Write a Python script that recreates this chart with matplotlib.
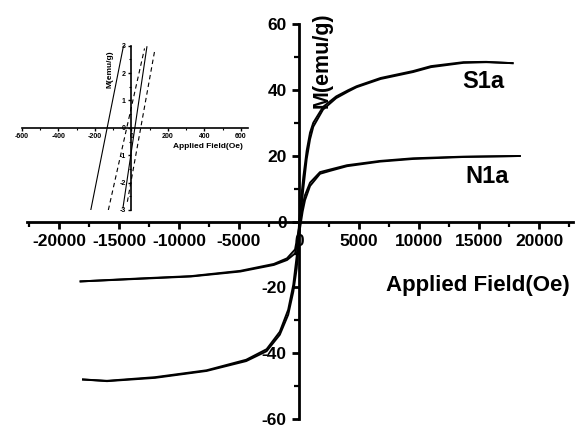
import matplotlib
matplotlib.use("Agg")
import matplotlib.pyplot as plt
from matplotlib.ticker import MultipleLocator, FixedLocator

plt.rcParams['font.family'] = ['Liberation Sans', 'DejaVu Sans']
plt.rcParams['font.weight'] = 'bold'

# ---------------- data ----------------
# S1a hysteresis loop (two branches)
s1a_field = [-18000, -16000, -12000, -7700, -4400, -2700, -1600, -900, -475, -190, 0,
             190, 360, 640, 920, 1190, 2000, 3100, 4100, 4800, 6800, 9500, 11000, 13700,
             15600, 17800]
s1a_asc = [-48.0, -48.5, -47.5, -45.4, -42.4, -39.4, -34.4, -28.3, -21.3, -14.2, -5.0,
           4.0, 10.0, 19.0, 25.0, 28.8, 34.0, 37.5, 39.5, 40.8, 43.3, 45.4, 46.9, 48.2,
           48.4, 48.1]
s1a_desc = [-48.0, -48.4, -47.3, -45.2, -42.0, -38.8, -33.5, -26.8, -19.2, -10.5, -1.0,
            7.5, 13.5, 21.5, 27.0, 30.0, 34.8, 38.0, 39.9, 41.1, 43.6, 45.7, 47.2, 48.4,
            48.5, 48.1]

# N1a hysteresis loop (two branches)
n1a_field = [-18200, -13250, -9000, -4900, -2100, -1000, -330, 0, 300, 500, 920,
             1750, 2600, 4000, 6750, 9500, 13700, 18400]
n1a_asc = [-18.2, -17.4, -16.7, -15.2, -13.2, -11.7, -9.7, -4.0, 3.0, 6.5, 10.8,
           14.5, 15.4, 16.8, 18.2, 19.0, 19.6, 19.9]
n1a_desc = [-18.2, -17.3, -16.6, -15.0, -12.9, -11.2, -8.5, -2.0, 5.0, 8.0, 11.8,
            15.0, 15.8, 17.1, 18.4, 19.2, 19.7, 19.9]

# inset: low-field segments
inset_a_field, inset_a_m = [-222, -43], [-3.0, 3.0]     # solid
inset_c_field, inset_c_m = [-46, 85], [-2.92, 2.96]     # solid
inset_b_field, inset_b_m = [-126, 72], [-3.0, 2.9]      # dashed
inset_d_field, inset_d_m = [-22, 127], [-2.7, 2.8]      # dashed

main_xticks = [-20000, -15000, -10000, -5000, 0, 5000, 10000, 15000, 20000]
main_yticks = [-60, -40, -20, 0, 20, 40, 60]
inset_xticks = [-600, -400, -200, 0, 200, 400, 600]
inset_yticks = [-3, -2, -1, 0, 1, 2, 3]

W, H = 575, 428
fig = plt.figure(figsize=(W / 100, H / 100), dpi=100)

# ---------------- main axes ----------------
ax = fig.add_axes([27 / W, (H - 419) / H, 546 / W, 395 / H])
ax.set_xlim(-22667, 22833)
ax.set_ylim(-60, 60)
for s in ['top', 'right']:
    ax.spines[s].set_visible(False)
ax.spines['left'].set_position(('data', 0))
ax.spines['bottom'].set_position(('data', 0))
for s in ['left', 'bottom']:
    ax.spines[s].set_linewidth(2.0)
ax.patch.set_visible(False)

lw = 1.4
ax.plot(s1a_field, s1a_asc, color='black', lw=lw)
ax.plot(s1a_field, s1a_desc, color='black', lw=lw)
ax.plot(n1a_field, n1a_asc, color='black', lw=lw)
ax.plot(n1a_field, n1a_desc, color='black', lw=lw)

ax.xaxis.set_major_locator(FixedLocator(main_xticks))
ax.xaxis.set_minor_locator(MultipleLocator(2500))
ax.yaxis.set_major_locator(FixedLocator(main_yticks))
ax.yaxis.set_minor_locator(MultipleLocator(10))
ax.set_xticklabels([str(v) for v in main_xticks])
ax.set_yticklabels([str(v) for v in main_yticks])
ax.tick_params(axis='both', which='major', direction='out', length=5, width=2.0,
               labelsize=12.5, pad=4)
ax.tick_params(axis='both', which='minor', direction='out', length=3.5, width=1.6)
for lab in ax.get_xticklabels() + ax.get_yticklabels():
    lab.set_fontweight('bold')

fig.text(322 / W, 1 - 60 / H, 'M(emu/g)', rotation=90, ha='center', va='center',
         fontsize=15.5, fontweight='bold')
fig.text(386 / W, 1 - 285 / H, 'Applied Field(Oe)', ha='left', va='center',
         fontsize=16, fontweight='bold')
fig.text(483 / W, 1 - 81 / H, 'S1a', ha='center', va='center', fontsize=17,
         fontweight='bold')
fig.text(487 / W, 1 - 176 / H, 'N1a', ha='center', va='center', fontsize=17,
         fontweight='bold')

# ---------------- inset ----------------
ax2 = fig.add_axes([21.7 / W, (H - 210) / H, (248 - 21.7) / W, (210 - 45.7) / H])
ax2.set_xlim(-600, 638)
ax2.set_ylim(-3, 3)
ax2.patch.set_visible(False)
for s in ['top', 'right']:
    ax2.spines[s].set_visible(False)
ax2.spines['left'].set_position(('data', 0))
ax2.spines['bottom'].set_position(('data', 0))
for s in ['left', 'bottom']:
    ax2.spines[s].set_linewidth(1.2)

ax2.plot(inset_a_field, inset_a_m, color='black', lw=0.8)
ax2.plot(inset_c_field, inset_c_m, color='black', lw=0.8)
ax2.plot(inset_b_field, inset_b_m, color='black', lw=0.8, ls=(0, (4, 3)))
ax2.plot(inset_d_field, inset_d_m, color='black', lw=0.8, ls=(0, (4, 3)))

ax2.xaxis.set_major_locator(FixedLocator(inset_xticks))
ax2.xaxis.set_minor_locator(MultipleLocator(100))
ax2.yaxis.set_major_locator(FixedLocator(inset_yticks))
ax2.yaxis.set_minor_locator(MultipleLocator(0.5))
ax2.set_xticklabels([str(v) for v in inset_xticks])
ax2.set_yticklabels([str(v) for v in inset_yticks])
ax2.tick_params(axis='both', which='major', direction='out', length=2.5, width=1.0,
                labelsize=5, pad=1.5)
ax2.tick_params(axis='both', which='minor', direction='out', length=1.5, width=0.8)
for lab in ax2.get_xticklabels() + ax2.get_yticklabels():
    lab.set_fontweight('bold')

fig.text(173 / W, 1 - 146 / H, 'Applied Field(Oe)', ha='left', va='center',
         fontsize=6, fontweight='bold')
fig.text(110 / W, 1 - 69 / H, 'M(emu/g)', rotation=90, ha='center', va='center',
         fontsize=6, fontweight='bold')

fig.savefig('out.png', dpi=100)
